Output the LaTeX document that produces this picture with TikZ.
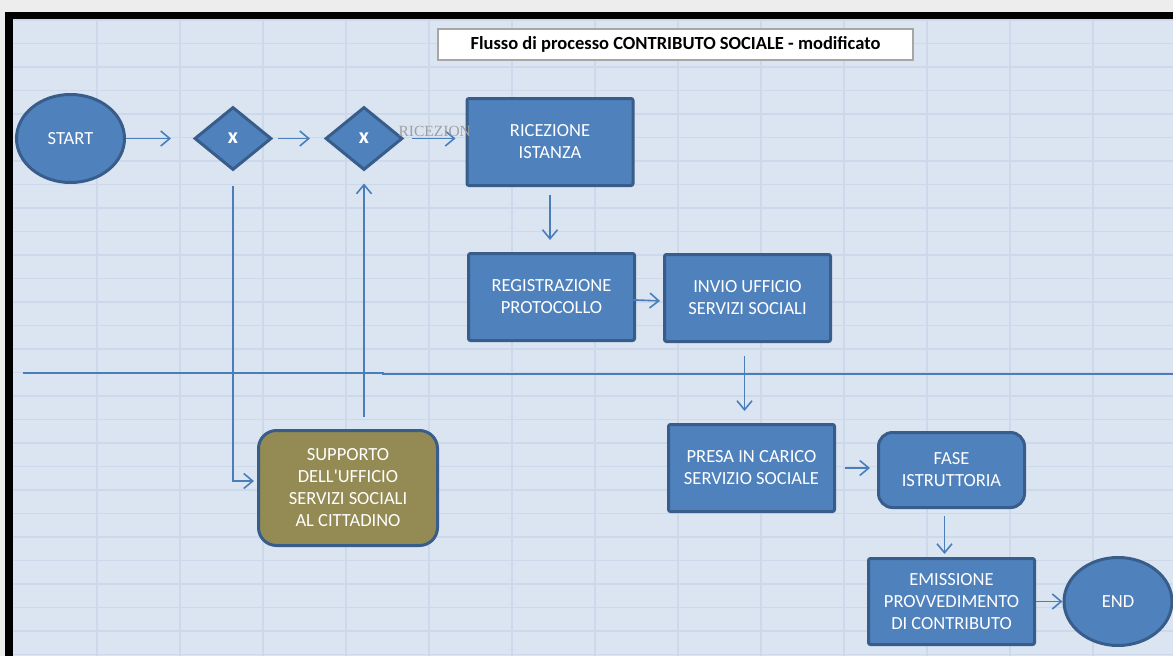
\documentclass[tikz,border=0pt]{standalone}
\usepackage{fontspec}
\setmainfont{Carlito}
\newfontfamily\labelfont{Liberation Serif}
\usepackage{tikz}
\usetikzlibrary{shapes}
\usetikzlibrary{arrows.meta}
\definecolor{framegray}{HTML}{EDEDED}
\definecolor{sheetblue}{HTML}{DBE5F1}
\definecolor{cellline}{HTML}{CDD8EA}
\definecolor{boxblue}{HTML}{4F81BD}
\definecolor{boxedge}{HTML}{385D8A}
\definecolor{flowblue}{HTML}{4A7EBB}
\definecolor{olivebox}{HTML}{948A54}
\definecolor{labelgray}{HTML}{A0A0A0}

\begin{document}
\begin{tikzpicture}[x=1pt,y=-1pt,
  cell/.style={draw=cellline,line width=1.2pt},
  flow/.style={draw=flowblue,line width=1.6pt,-{Straight Barb[length=9pt,width=15pt]}},
  task/.style={rectangle,rounded corners=2pt,fill=boxblue,draw=boxedge,line width=3pt,
    text=white,align=center,font=\fontsize{18.5}{22}\selectfont,
    minimum width=166pt,minimum height=87pt,inner sep=0pt},
  event/.style={ellipse,fill=boxblue,draw=boxedge,line width=3pt,text=white,
    font=\fontsize{18.5}{22}\selectfont,minimum width=108pt,minimum height=88pt,inner sep=0pt},
  gate/.style={diamond,fill=boxblue,draw=boxedge,line width=3pt,text=white,
    font=\fontsize{22}{22}\bfseries,minimum width=77pt,minimum height=63pt,inner sep=0pt},
  titlebox/.style={rectangle,fill=white,draw=gray!70,line width=1.5pt,text=black,
    font=\fontsize{18.5}{18.5}\bfseries,minimum width=475pt,minimum height=31pt,inner sep=0pt},
  flowlabel/.style={above=1pt,inner sep=0pt,text=labelgray,font=\labelfont\fontsize{15.5}{15.5}\selectfont}]
\useasboundingbox (0,0) rectangle (1173,656);
% foglio
\fill[framegray] (0,0) rectangle (1173,656);
\fill[black] (5,12) rectangle (1173,656);
\fill[sheetblue] (13,20) rectangle (1173,656);
\draw[cell] (13,20) -- +(1160,0);
\draw[cell] (13,43.5) -- +(1160,0);
\draw[cell] (13,67) -- +(1160,0);
\draw[cell] (13,90.5) -- +(1160,0);
\draw[cell] (13,114) -- +(1160,0);
\draw[cell] (13,137.5) -- +(1160,0);
\draw[cell] (13,161) -- +(1160,0);
\draw[cell] (13,184.5) -- +(1160,0);
\draw[cell] (13,208) -- +(1160,0);
\draw[cell] (13,231.5) -- +(1160,0);
\draw[cell] (13,255) -- +(1160,0);
\draw[cell] (13,278.5) -- +(1160,0);
\draw[cell] (13,302) -- +(1160,0);
\draw[cell] (13,325.5) -- +(1160,0);
\draw[cell] (13,349) -- +(1160,0);
\draw[cell] (13,372.5) -- +(1160,0);
\draw[cell] (13,396) -- +(1160,0);
\draw[cell] (13,419.5) -- +(1160,0);
\draw[cell] (13,443) -- +(1160,0);
\draw[cell] (13,466.5) -- +(1160,0);
\draw[cell] (13,490) -- +(1160,0);
\draw[cell] (13,513.5) -- +(1160,0);
\draw[cell] (13,537) -- +(1160,0);
\draw[cell] (13,560.5) -- +(1160,0);
\draw[cell] (13,584) -- +(1160,0);
\draw[cell] (13,607.5) -- +(1160,0);
\draw[cell,line width=2pt] (13,631) -- +(1160,0);
\draw[cell] (13,654.5) -- +(1160,0);
\draw[cell] (97,20) -- +(0,636);
\draw[cell] (180,20) -- +(0,636);
\draw[cell] (263,20) -- +(0,636);
\draw[cell] (346,20) -- +(0,636);
\draw[cell] (429,20) -- +(0,636);
\draw[cell] (512,20) -- +(0,636);
\draw[cell] (595,20) -- +(0,636);
\draw[cell] (678,20) -- +(0,636);
\draw[cell] (761,20) -- +(0,636);
\draw[cell] (844,20) -- +(0,636);
\draw[cell] (927,20) -- +(0,636);
\draw[cell] (1010,20) -- +(0,636);
\draw[cell] (1093,20) -- +(0,636);
% separazione
\draw[draw=flowblue,line width=1.5pt] (23,373) -- (383,373) -- (383,374) -- (1173,374);
% titolo
\node[titlebox] (titolo) at (675.5,44.5) {Flusso di processo CONTRIBUTO SOCIALE - modificato};
% nodi
\node[event] (start) at (70.5,138.5) {START};
\node[gate] (gate1) at (233,138.5) {x};
\node[gate] (gate2) at (364,138.5) {x};
\node[task] (ricezione) at (550,142) {RICEZIONE\\ISTANZA};
\node[task] (registrazione) at (551.5,297) {REGISTRAZIONE\\PROTOCOLLO};
\node[task] (invio) at (747.5,298) {INVIO UFFICIO\\SERVIZI SOCIALI};
\node[task,rounded corners=18pt,fill=olivebox,minimum width=179pt,minimum height=115pt] (supporto) at (348,488) {SUPPORTO\\DELL\textquotesingle UFFICIO\\SERVIZI SOCIALI\\AL CITTADINO};
\node[task] (presa) at (751.5,468) {PRESA IN CARICO\\SERVIZIO SOCIALE};
\node[task,rounded corners=14pt,minimum width=146pt,minimum height=75pt] (fase) at (951.5,470) {FASE\\ISTRUTTORIA};
\node[task,minimum height=86pt] (emissione) at (951.5,601.5) {EMISSIONE\\PROVVEDIMENTO\\DI CONTRIBUTO};
\node[event] (fine) at (1118,601.5) {END};
% collegamenti
\draw[flow,shorten >=22pt] (start.east) -- (gate1.west);
\draw[flow,shorten <=5pt,shorten >=14pt] (gate1.east) -- (gate2.west);
\draw[flow,shorten <=8pt,shorten >=10pt] (gate2.east) -- node[flowlabel] {RICEZION} (gate2.east -| ricezione.west);
\draw[flow,shorten <=8pt,shorten >=12pt] (ricezione.south) -- (ricezione.south |- registrazione.north);
\draw[flow,shorten <=-4pt,shorten >=3pt] ([yshift=-3pt]registrazione.east) -- ([yshift=-3pt]invio.west);
\draw[flow,shorten <=13pt,shorten >=12pt] ([xshift=-3pt]invio.south) -- ([xshift=-3pt]invio.south |- presa.north);
\draw[flow,shorten <=9pt,shorten >=7pt] (presa.east) -- (presa.east -| fase.west);
\draw[flow,shorten <=7pt,shorten >=3pt] ([xshift=-7pt]fase.south) -- ([xshift=-7pt]fase.south |- emissione.north);
\draw[flow] (emissione.east) -- (fine.west);
\draw[flow,shorten <=14pt,shorten >=3pt] (gate1.south) |- ([yshift=7pt]supporto.west);
\draw[flow,shorten <=12pt,shorten >=12pt] (gate2.south |- supporto.north) -- (gate2.south);
\end{tikzpicture}
\end{document}
